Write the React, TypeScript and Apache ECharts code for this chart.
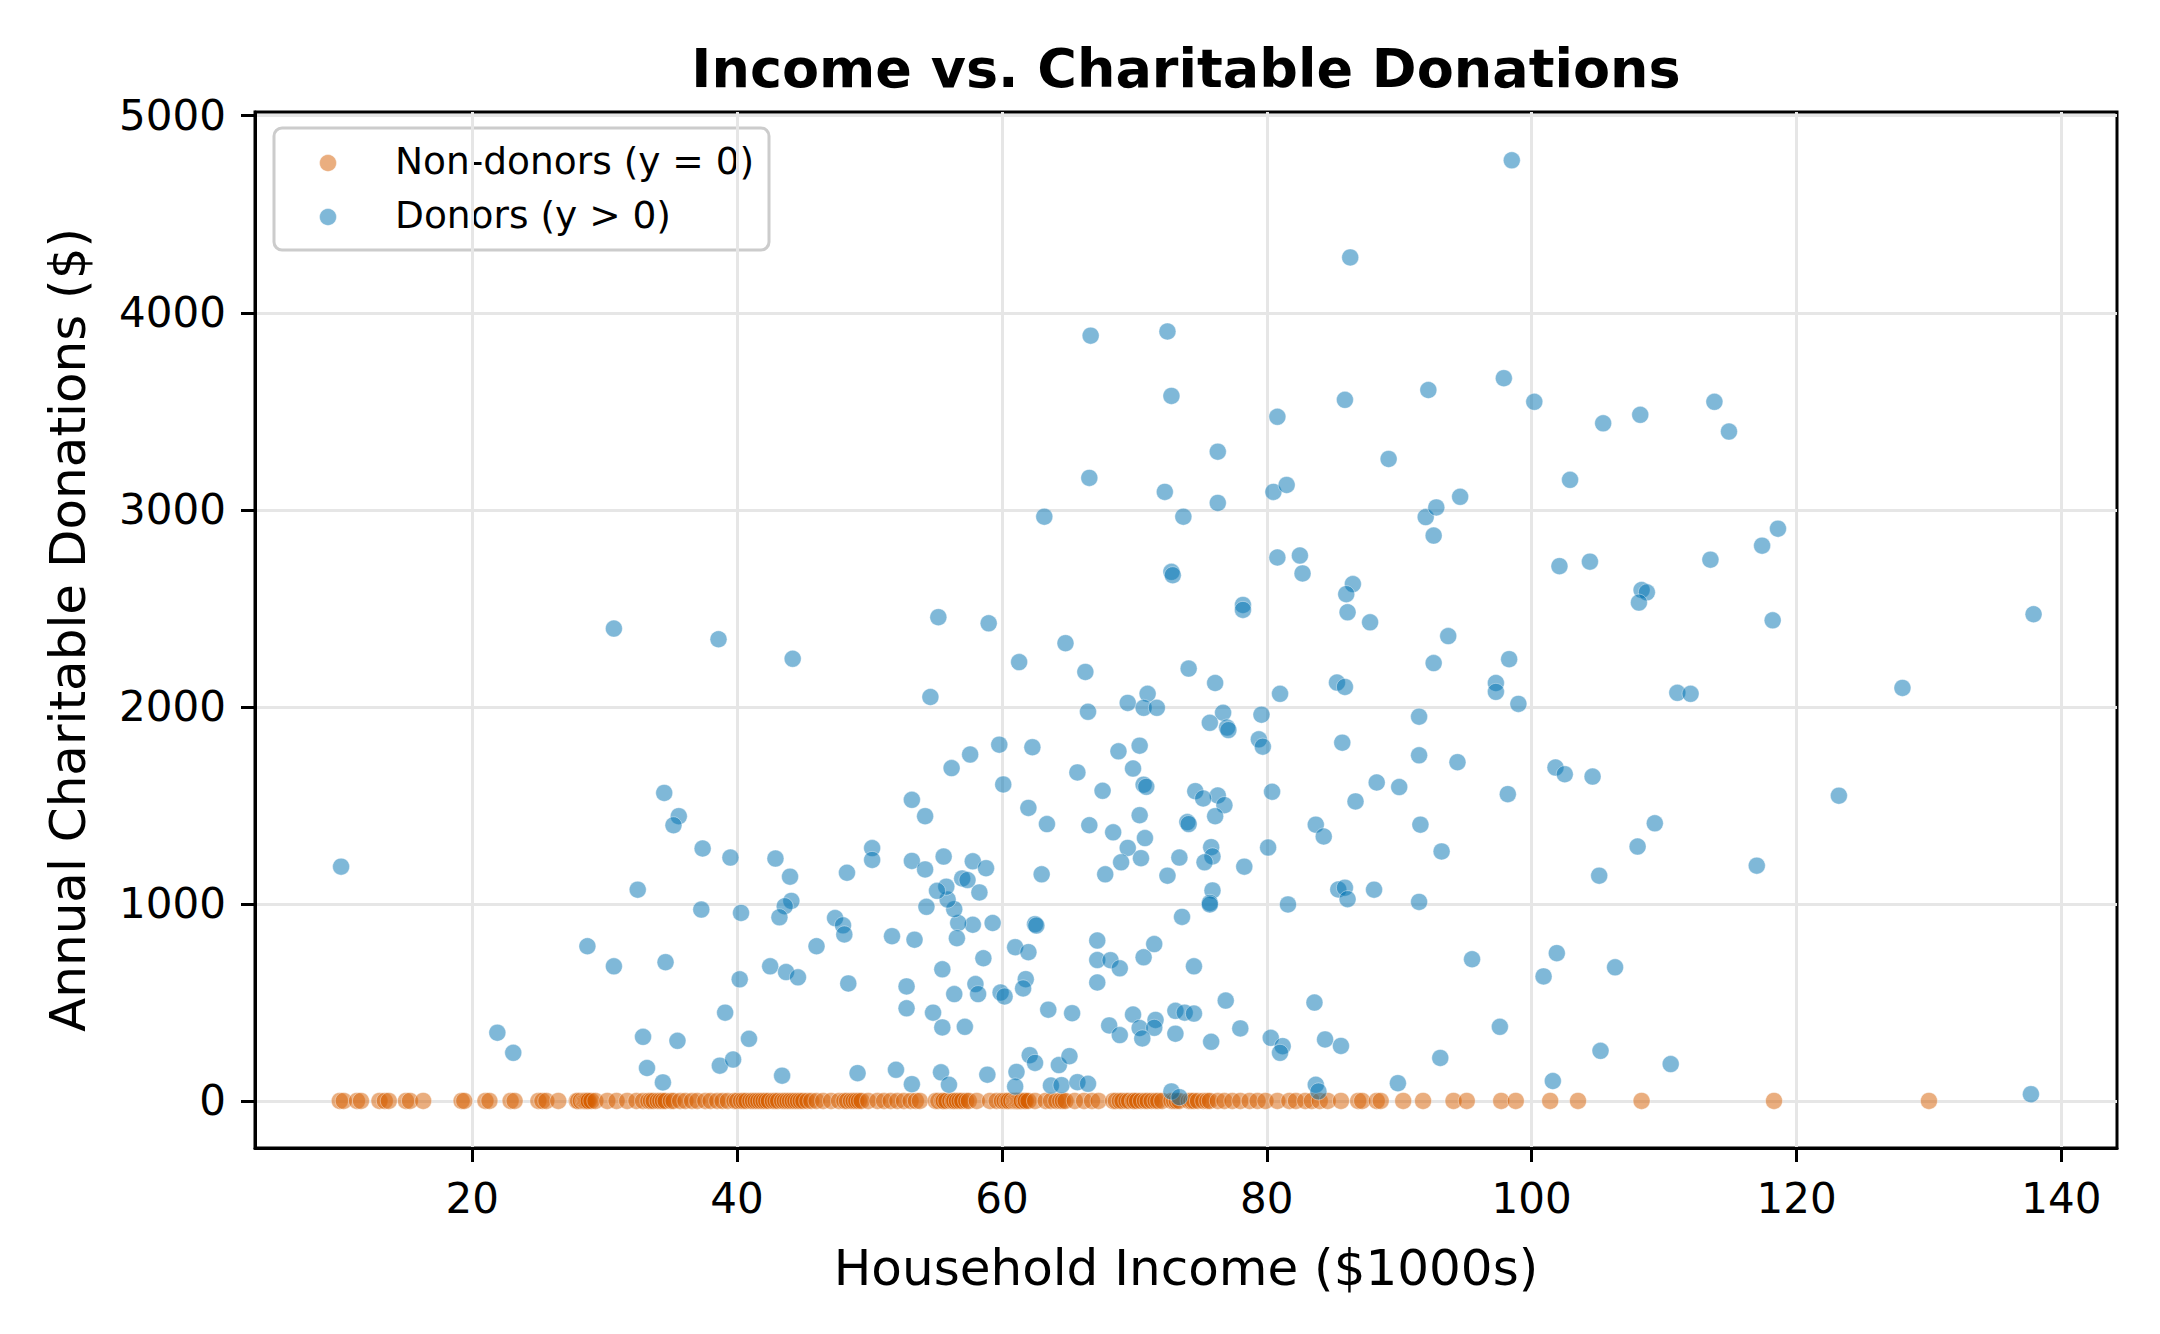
import React, { useEffect, useRef } from "react";
import * as echarts from "echarts";

const TITLE = "Income vs. Charitable Donations";
const X_NAME = "Household Income ($1000s)";
const Y_NAME = "Annual Charitable Donations ($)";
const LEGEND_NAMES = ["Non-donors (y = 0)", "Donors (y > 0)"];

const X_TICKS = [20, 40, 60, 80, 100, 120, 140];
const Y_TICKS = [0, 1000, 2000, 3000, 4000, 5000];
const X_RANGE = [3.6, 144.2];
const Y_RANGE = [-239, 5019];

// Incomes of households that gave nothing (donation = 0)
const NON_DONOR_INCOME = [
  10.0, 10.3, 11.3, 11.6, 13.0, 13.4, 13.7, 15.0, 15.3, 16.3, 19.2, 19.4, 21.0, 21.3, 22.9, 23.2,
  25.0, 25.3, 25.6, 26.5, 27.9, 28.0, 28.2, 28.4, 28.5, 28.6, 28.7, 28.8, 29.0, 29.3, 30.2, 30.9,
  31.7, 32.4, 32.9, 33.3, 33.5, 33.7, 34.0, 34.2, 34.4, 34.6, 35.0, 35.2, 35.7, 36.1, 36.6, 37.0,
  37.6, 38.0, 38.5, 38.9, 39.3, 39.8, 40.0, 40.3, 40.5, 40.7, 41.0, 41.2, 41.4, 41.6, 41.8, 42.0,
  42.2, 42.4, 42.7, 42.9, 43.1, 43.4, 43.6, 43.8, 44.0, 44.2, 44.4, 44.6, 44.8, 45.0, 45.3, 45.6,
  46.0, 46.5, 47.1, 47.7, 48.1, 48.3, 48.6, 48.8, 49.0, 49.2, 49.4, 49.9, 50.6, 51.1, 51.6, 52.1,
  52.6, 53.1, 53.5, 53.8, 55.0, 55.2, 55.5, 55.6, 55.8, 56.1, 56.3, 56.4, 56.6, 56.8, 57.0, 57.3,
  57.5, 58.1, 59.1, 59.6, 60.0, 60.2, 60.4, 60.5, 60.7, 60.9, 61.0, 61.1, 61.2, 61.3, 61.4, 61.5,
  61.7, 61.8, 62.0, 62.5, 63.3, 63.7, 64.1, 64.4, 64.6, 64.8, 65.5, 66.2, 66.8, 67.3, 68.4, 68.6,
  68.9, 69.1, 69.4, 69.6, 69.9, 70.0, 70.2, 70.5, 70.8, 71.0, 71.3, 71.6, 71.8, 72.1, 72.8, 73.0,
  73.2, 73.4, 74.1, 74.3, 74.5, 74.8, 75.2, 75.5, 75.7, 76.3, 76.8, 77.4, 78.0, 78.7, 79.3, 79.9,
  80.8, 81.7, 82.2, 82.9, 83.4, 84.0, 84.6, 85.6, 86.9, 87.2, 88.3, 88.6, 90.3, 91.8, 94.1, 95.1,
  97.7, 98.8, 101.4, 103.5, 108.3, 118.3, 130.0,
];

// [income ($1000s), annual donation ($)]
const DONORS = [
  [98.5, 4774], [86.3, 4281], [66.7, 3884], [72.5, 3905], [72.8, 3578], [80.8, 3472], [85.9, 3558],
  [92.2, 3608], [97.9, 3668], [100.2, 3548], [105.4, 3439], [108.2, 3482], [113.8, 3548], [114.9, 3397],
  [76.3, 3295], [89.2, 3258], [66.6, 3162], [72.3, 3091], [76.3, 3035], [80.5, 3091], [81.5, 3126],
  [63.2, 2965], [73.7, 2965], [92.0, 2963], [92.8, 3012], [94.6, 3066], [92.6, 2869], [80.8, 2758],
  [82.5, 2768], [82.7, 2677], [86.5, 2623], [86.0, 2572], [86.1, 2480], [87.8, 2429], [55.2, 2455],
  [59.0, 2424], [64.8, 2323], [61.3, 2227], [66.3, 2177], [74.1, 2194], [76.1, 2121], [85.3, 2123],
  [85.9, 2101], [93.7, 2359], [92.6, 2222], [97.3, 2121], [97.3, 2076], [54.6, 2050], [81.0, 2066],
  [66.5, 1975], [69.5, 2020], [71.0, 2066], [70.7, 1995], [71.7, 1995], [76.7, 1970], [75.7, 1919],
  [79.6, 1960], [77.0, 1895], [77.1, 1882], [79.4, 1835], [79.7, 1798], [85.7, 1818], [91.5, 1950],
  [91.5, 1754], [94.4, 1719], [59.8, 1808], [62.3, 1795], [57.6, 1758], [56.2, 1689], [70.4, 1803],
  [68.8, 1774], [69.9, 1687], [65.7, 1667], [60.1, 1606], [70.7, 1605], [70.9, 1594], [67.6, 1574],
  [74.6, 1572], [76.3, 1550], [75.2, 1535], [80.4, 1569], [88.3, 1616], [90.0, 1593], [86.7, 1520],
  [53.2, 1528], [72.8, 2685], [72.9, 2668], [78.2, 2517], [78.2, 2492],
  [54.2, 1445], [62.0, 1487], [63.4, 1405], [66.6, 1399], [68.4, 1363], [70.4, 1450], [70.8, 1334],
  [69.5, 1284], [69.0, 1211], [70.5, 1232], [67.8, 1150], [63.0, 1150], [73.4, 1235], [72.5, 1143],
  [74.0, 1415], [74.1, 1405], [76.8, 1501], [76.1, 1445], [75.8, 1288], [75.9, 1241], [75.3, 1211],
  [78.3, 1189], [80.1, 1286], [83.7, 1402], [84.3, 1342], [91.6, 1402], [93.2, 1266], [75.9, 1068],
  [75.7, 1005], [75.7, 997], [81.6, 997], [85.4, 1073], [85.9, 1082], [86.1, 1024], [88.1, 1072],
  [91.5, 1010], [73.6, 934], [62.5, 897], [62.6, 890], [59.3, 903], [57.8, 894], [56.7, 903],
  [56.6, 826], [56.4, 973], [55.9, 1022], [55.8, 1087], [55.1, 1066], [57.0, 1129], [57.4, 1121],
  [58.3, 1058], [57.8, 1216], [58.8, 1181], [55.6, 1240], [53.2, 1218], [54.2, 1175], [54.3, 985],
  [50.2, 1283], [50.2, 1223], [51.7, 836], [53.4, 818], [61.0, 780], [62.0, 755], [58.6, 724],
  [55.5, 668], [52.8, 581], [52.8, 470], [54.8, 448], [56.4, 542], [58.0, 593], [58.2, 542],
  [59.9, 550], [60.2, 530], [61.8, 618], [61.6, 571], [55.5, 373], [57.2, 376], [63.5, 463],
  [65.3, 445], [67.2, 814], [67.2, 715], [68.2, 714], [68.9, 673], [67.2, 601], [70.7, 729],
  [71.5, 796], [74.5, 683], [76.9, 509], [69.9, 438], [68.1, 383], [68.9, 334], [70.4, 370],
  [71.6, 411], [71.5, 371], [70.6, 317], [73.1, 457], [73.8, 448], [74.5, 443], [73.1, 341],
  [75.8, 300], [78.0, 368], [80.3, 320], [81.2, 278], [81.0, 244], [83.6, 499], [84.4, 312],
  [85.6, 279], [93.1, 218], [89.9, 90], [95.5, 719], [97.6, 376], [83.7, 82], [83.9, 48],
  [72.8, 48], [73.4, 19], [52.0, 158], [53.2, 85], [55.4, 145], [56.0, 82], [58.9, 133],
  [61.1, 147], [61.0, 73], [62.1, 232], [62.5, 193], [64.3, 182], [65.1, 227], [63.7, 78],
  [64.5, 80], [65.7, 95], [66.5, 87],
  [10.1, 1189], [32.5, 1072], [34.5, 1563], [35.6, 1445], [35.2, 1399], [37.4, 1281], [39.5, 1235],
  [42.9, 1230], [44.0, 1138], [48.3, 1158], [37.3, 971], [40.3, 954], [44.1, 1015], [43.6, 988],
  [43.2, 932], [47.4, 928], [48.0, 891], [48.1, 845], [46.0, 785], [28.7, 785], [30.7, 683],
  [34.6, 704], [42.5, 683], [43.7, 654], [44.6, 627], [40.2, 617], [48.4, 596], [39.1, 448],
  [21.9, 346], [23.1, 244], [32.9, 325], [35.5, 305], [40.9, 315], [33.2, 167], [34.4, 94],
  [38.7, 179], [39.7, 210], [43.4, 128], [49.1, 141],
  [30.7, 2397], [38.6, 2343], [44.2, 2244],
  [102.9, 3152], [118.6, 2904], [117.4, 2818], [102.1, 2714], [104.4, 2737], [113.5, 2747],
  [108.3, 2593], [108.7, 2581], [108.1, 2529], [118.2, 2439], [137.9, 2470], [98.3, 2242],
  [99.0, 2015], [111.0, 2071], [112.0, 2066], [128.0, 2096], [101.8, 1692], [102.5, 1658],
  [104.6, 1646], [98.2, 1557], [123.2, 1549],
  [109.3, 1409], [108.0, 1291], [105.1, 1143], [117.0, 1194], [101.9, 750], [100.9, 632],
  [106.3, 678], [105.2, 254], [110.5, 187], [101.6, 101], [137.7, 34],
];

const ORANGE = "#D55E00";
const BLUE = "#0072B2";
const FONT = "DejaVu Sans";

const GRID = { left: 255, top: 112, width: 1862, height: 1036 };

export default function App() {
  const ref = useRef<HTMLDivElement>(null);

  useEffect(() => {
    document.body.style.margin = "0";
    const chart = echarts.init(ref.current!, null, { renderer: "svg" });

    const axisCommon = {
      type: "value",
      nameLocation: "middle",
      nameTextStyle: { fontSize: 50, color: "#000", fontFamily: FONT },
      axisLine: { show: true, onZero: false, lineStyle: { color: "#000", width: 3 } },
      splitLine: { show: true, lineStyle: { color: "#e6e6e6", width: 3 } },
    };

    const legendX = 274;
    const legendY = 128;
    const plainNumber = (v: number) => String(v);

    chart.setOption({
      animation: false,
      backgroundColor: "#fff",
      textStyle: { fontFamily: FONT },
      grid: {
        ...GRID,
        show: true,
        borderColor: "#000",
        borderWidth: 3,
        backgroundColor: "transparent",
        containLabel: false,
      },
      xAxis: {
        ...axisCommon,
        min: X_RANGE[0],
        max: X_RANGE[1],
        name: X_NAME,
        nameGap: 95,
        axisTick: { show: true, length: 14, customValues: X_TICKS, lineStyle: { color: "#000", width: 3 } },
        axisLabel: {
          customValues: X_TICKS,
          formatter: plainNumber,
          margin: 29,
          fontSize: 42,
          color: "#000",
          fontFamily: FONT,
        },
      },
      yAxis: {
        ...axisCommon,
        min: Y_RANGE[0],
        max: Y_RANGE[1],
        name: Y_NAME,
        nameGap: 162,
        axisTick: { show: true, length: 14, customValues: Y_TICKS, lineStyle: { color: "#000", width: 3 } },
        axisLabel: {
          customValues: Y_TICKS,
          formatter: plainNumber,
          margin: 29,
          fontSize: 42,
          color: "#000",
          fontFamily: FONT,
        },
      },
      series: [
        {
          name: LEGEND_NAMES[0],
          type: "scatter",
          silent: true,
          symbol: "circle",
          symbolSize: 17,
          itemStyle: { color: ORANGE, opacity: 0.5, borderColor: "#fff", borderWidth: 0.8 },
          data: NON_DONOR_INCOME.map((x) => [x, 0]),
          z: 2,
        },
        {
          name: LEGEND_NAMES[1],
          type: "scatter",
          silent: true,
          symbol: "circle",
          symbolSize: 17,
          itemStyle: { color: BLUE, opacity: 0.5, borderColor: "#fff", borderWidth: 0.8 },
          data: DONORS,
          z: 3,
        },
      ],
      graphic: [
        {
          type: "text",
          x: GRID.left + GRID.width / 2,
          y: 68,
          style: {
            text: TITLE,
            fontSize: 54,
            fontWeight: "bold",
            fontFamily: FONT,
            fill: "#000",
            align: "center",
            verticalAlign: "middle",
            textAlign: "center",
            textVerticalAlign: "middle",
          },
          z: 10,
        },
        {
          type: "group",
          x: legendX,
          y: legendY,
          z: 10,
          children: [
            {
              type: "rect",
              shape: { x: 0, y: 0, width: 495, height: 122, r: 8 },
              style: { fill: "rgba(255,255,255,0.8)", stroke: "#cccccc", lineWidth: 3 },
            },
            {
              type: "circle",
              shape: { cx: 54, cy: 35, r: 8.5 },
              style: { fill: ORANGE, opacity: 0.5, stroke: "#fff", lineWidth: 0.8 },
            },
            {
              type: "circle",
              shape: { cx: 54, cy: 89, r: 8.5 },
              style: { fill: BLUE, opacity: 0.5, stroke: "#fff", lineWidth: 0.8 },
            },
            {
              type: "text",
              x: 121,
              y: 33,
              style: {
                text: LEGEND_NAMES[0],
                fontSize: 37.5,
                fontFamily: FONT,
                fill: "#000",
                align: "left",
                verticalAlign: "middle",
                textAlign: "left",
                textVerticalAlign: "middle",
              },
            },
            {
              type: "text",
              x: 121,
              y: 87,
              style: {
                text: LEGEND_NAMES[1],
                fontSize: 37.5,
                fontFamily: FONT,
                fill: "#000",
                align: "left",
                verticalAlign: "middle",
                textAlign: "left",
                textVerticalAlign: "middle",
              },
            },
          ],
        },
      ],
    });

    return () => chart.dispose();
  }, []);

  return <div ref={ref} style={{ width: "2160px", height: "1334px" }} />;
}
